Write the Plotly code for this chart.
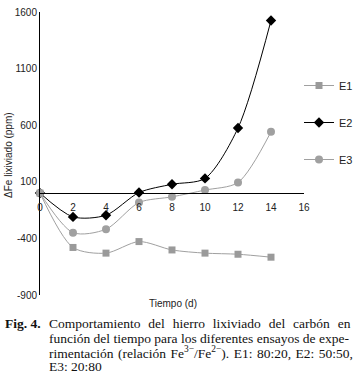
import plotly.graph_objects as go

# ---- data ----
tiempo = [0, 2, 4, 6, 8, 10, 12, 14]
e1 = [0, -480, -530, -428, -502, -530, -540, -566]
e2 = [0, -210, -195, 5, 78, 130, 575, 1525]
e3 = [0, -349, -319, -83, -33, 27, 94, 542]
y_ticks = [-900, -400, 100, 600, 1100, 1600]
x_ticks = [0, 2, 4, 6, 8, 10, 12, 14, 16]
series_names = ["E1", "E2", "E3"]

W, H = 357, 377
# plot area bounds in pixels
L, R, T, B = 40, 304, 12, 295


def px(x, y):
    return (x - L) / (R - L), (B - y) / (B - T)


fig = go.Figure()
fig.add_trace(go.Scatter(
    x=tiempo, y=e1, name=series_names[0], mode="lines+markers",
    line=dict(color="#a0a0a0", width=1, shape="spline", smoothing=0.8),
    marker=dict(symbol="square", size=7, color="#9a9a9a"),
    legendgroup="g1", cliponaxis=False))
fig.add_trace(go.Scatter(
    x=tiempo, y=e2, name=series_names[1], mode="lines+markers",
    line=dict(color="#000000", width=1, shape="spline", smoothing=0.8),
    marker=dict(symbol="diamond", size=8, color="#000000"),
    legendgroup="g2", cliponaxis=False))
fig.add_trace(go.Scatter(
    x=tiempo, y=e3, name=series_names[2], mode="lines+markers",
    line=dict(color="#a0a0a0", width=1, shape="spline", smoothing=0.8),
    marker=dict(symbol="circle", size=8, color="#a0a0a0"),
    legendgroup="g3", cliponaxis=False))

ymin, ymax = -900, 1600
zero_pos = (0 - ymin) / (ymax - ymin)

lx, ly = px(299, 71)
fig.update_layout(
    width=W, height=H,
    margin=dict(l=L, r=W - R, t=T, b=H - B, pad=0, autoexpand=False),
    paper_bgcolor="white", plot_bgcolor="white",
    font=dict(family="Liberation Sans, Arial, sans-serif", size=10, color="#222"),
    showlegend=True,
    legend=dict(x=lx, y=ly, xanchor="left", yanchor="top",
                traceorder="grouped", tracegroupgap=18, itemwidth=30,
                font=dict(size=11, color="#222"), bgcolor="rgba(0,0,0,0)"),
    xaxis=dict(range=[0, 16], tickvals=x_ticks, ticktext=[str(v) for v in x_ticks],
               showgrid=False, zeroline=False, showline=True, linecolor="black",
               linewidth=1, anchor="free", position=zero_pos,
               ticks="outside", ticklen=5, tickcolor="rgba(0,0,0,0)",
               tickfont=dict(size=10, color="#222")),
    yaxis=dict(range=[ymin, ymax], tickvals=y_ticks, ticktext=[str(v) for v in y_ticks],
               showgrid=False, zeroline=False, showline=True, linecolor="black",
               linewidth=1, ticks="", ticklabeloverflow="allow",
               tickfont=dict(size=10, color="#222")),
)

annos = []
# axis titles
xt, yt = px(173, 303)
annos.append(dict(text="Tiempo (d)", x=xt, y=yt, xref="paper", yref="paper",
                  showarrow=False, xanchor="center", yanchor="middle",
                  font=dict(size=10, color="#222")))
xt, yt = px(8, 155)
annos.append(dict(text="ΔFe lixiviado (ppm)", x=xt, y=yt, xref="paper", yref="paper",
                  showarrow=False, xanchor="center", yanchor="middle", textangle=-90,
                  font=dict(size=10, color="#222")))

serif = "Liberation Serif, Times New Roman, serif"
line1 = "Comportamiento del hierro lixiviado del carbón en".replace(" ", " \u00a0\u200a")
line3 = ("rimentación (relación Fe<sup>3−</sup>/Fe<sup>2−</sup>). E1: 80:20, E2: 50:50,"
         .replace(" ", " \u200a"))
caption = [
    (3, 323, "<b>Fig. 4.</b>"),
    (47, 323, line1),
    (47, 338, "función del tiempo para los diferentes ensayos de expe-"),
    (47, 352, line3),
    (47, 366, "E3: 20:80"),
]
for cx, cy, txt in caption:
    xt, yt = px(cx, cy)
    annos.append(dict(text=txt, x=xt, y=yt, xref="paper", yref="paper",
                      showarrow=False, xanchor="left", yanchor="middle",
                      font=dict(family=serif, size=13.5, color="#111")))
fig.update_layout(annotations=annos)

fig.write_html("out.html", config={"displayModeBar": False},
               post_script="document.body.style.margin='0';")
